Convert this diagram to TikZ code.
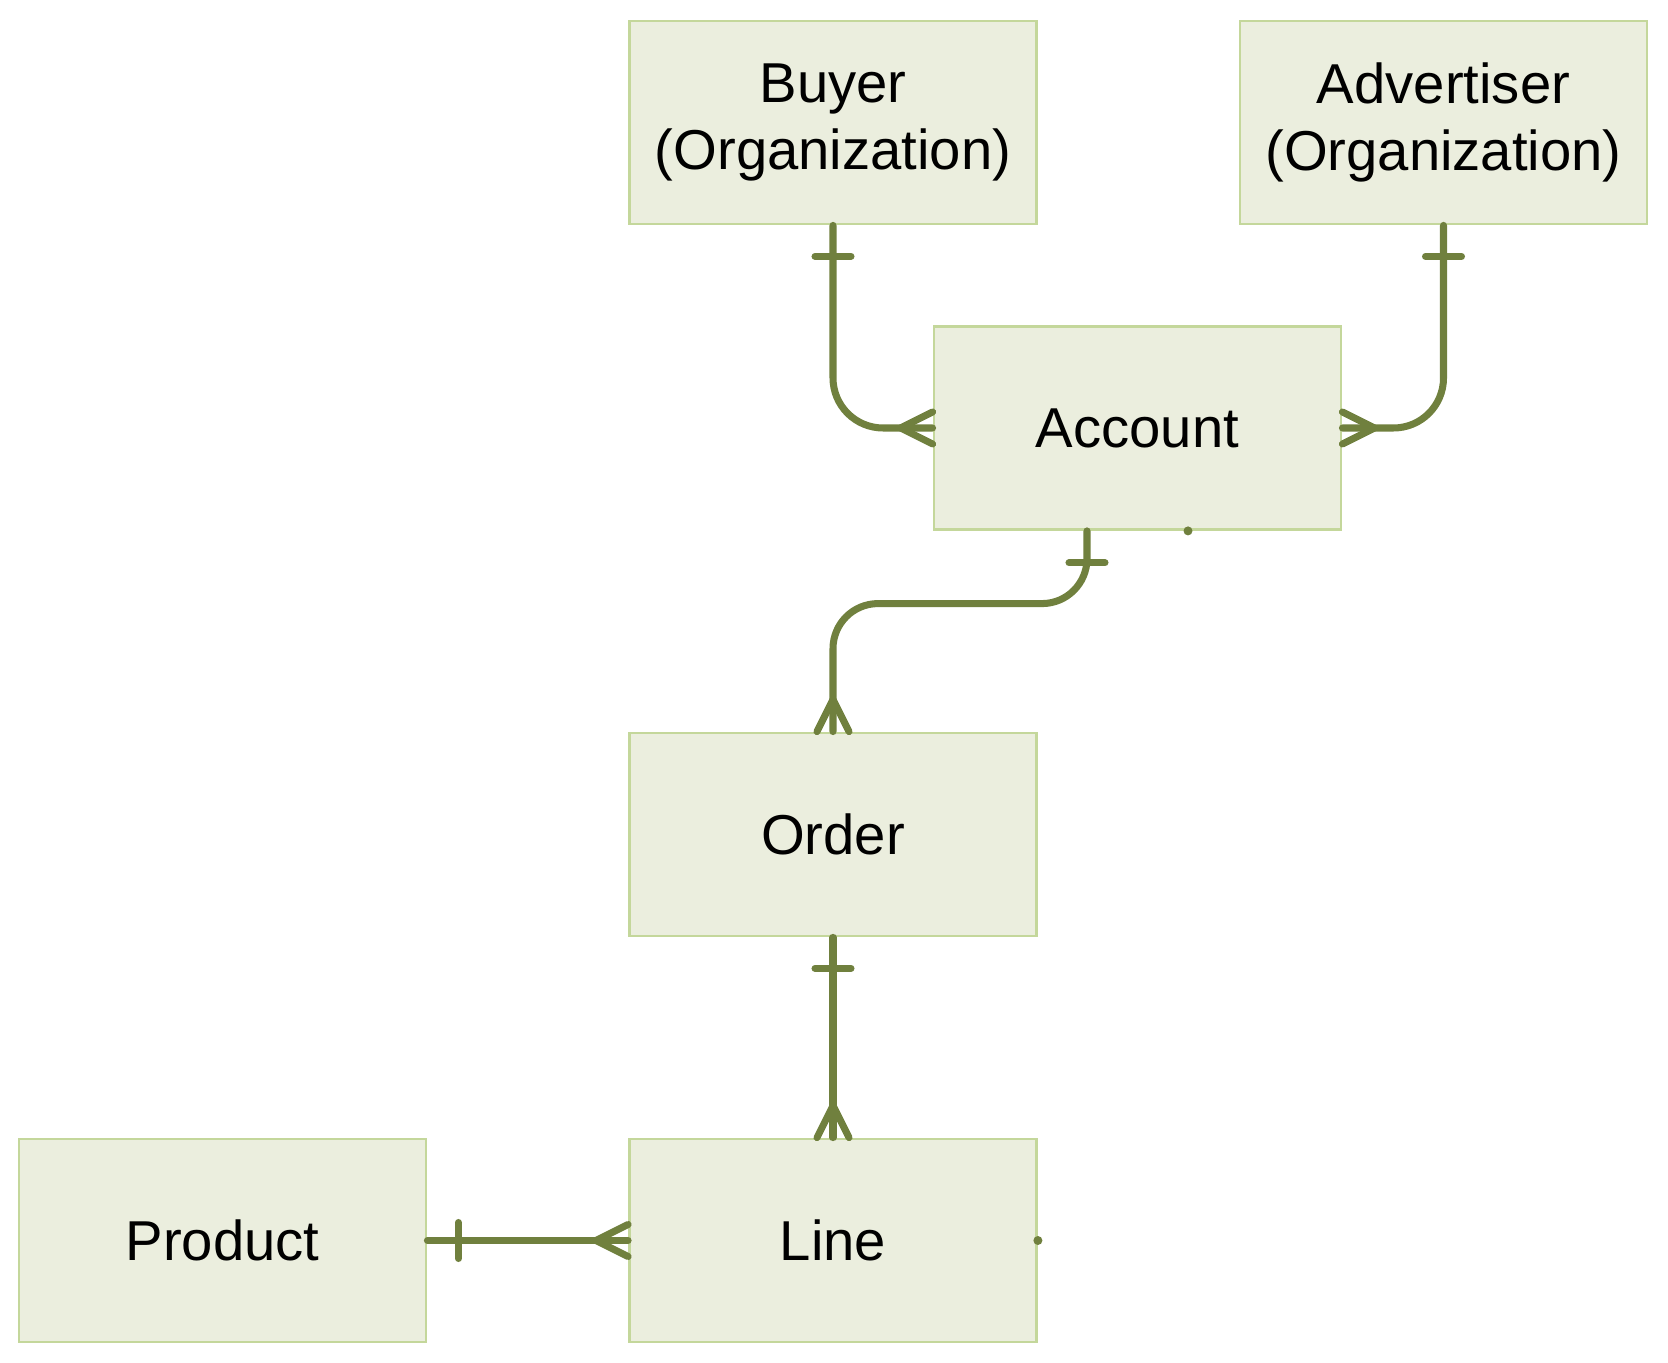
\documentclass[tikz,border=0pt]{standalone}
\usepackage{fontspec}
\setmainfont{Liberation Sans}
\usetikzlibrary{positioning, calc}
\definecolor{boxfill}{RGB}{235,238,222}
\definecolor{boxborder}{RGB}{196,215,155}
\definecolor{linkgreen}{RGB}{112,128,62}
\tikzset{
    entity/.style={
        align=center,
        fill=boxfill,
        draw=boxborder,
        line width=0.8pt,
        minimum width=4.07cm,
        minimum height=2.03cm,
        inner sep=0pt,
        font=\fontsize{16}{19}\selectfont
    },
    link/.style={draw=linkgreen, line width=2pt, line cap=round, line join=round},
    linkcurve/.style={link, rounded corners=5mm}
}

\begin{document}
\begin{tikzpicture}

    \useasboundingbox (0,0) rectangle (16.68,13.62);

    % 1. Organizations (top row)
    \node[entity] (buyer) at (8.33, 12.395) {Buyer \\ (Organization)};
    \node[entity] (advertiser) at (14.435, 12.395) {Advertiser \\ (Organization)};

    % 2. Account
    \node[entity] (account) at (11.375, 9.34) {Account};

    % 3. Order / Line / Product
    \node[entity] (order) at (8.33, 5.275) {Order};
    \node[entity] (line) at (8.33, 1.215) {Line};
    \node[entity] (product) at (2.225, 1.215) {Product};

    % ==========================================
    % Connections (one to many)
    % ==========================================

    % Buyer -> Account
    \draw[linkcurve] (buyer.south) |- (account.west);
    \draw[link] ([xshift=-1.8mm, yshift=-3.1mm]buyer.south) -- ++(3.6mm,0);
    \draw[link] ([yshift=1.6mm]account.west) -- ++(-3.2mm,-1.6mm) -- ([yshift=-1.6mm]account.west);

    % Advertiser -> Account
    \draw[linkcurve] (advertiser.south) |- (account.east);
    \draw[link] ([xshift=-1.8mm, yshift=-3.1mm]advertiser.south) -- ++(3.6mm,0);
    \draw[link] ([yshift=1.6mm]account.east) -- ++(3.2mm,-1.6mm) -- ([yshift=-1.6mm]account.east);

    % Account -> Order
    \draw[link, rounded corners=4.5mm] ([xshift=-5.05mm]account.south) |- ([yshift=12.8mm]order.north) -- (order.north);
    \draw[link] ([xshift=-6.85mm, yshift=-3.2mm]account.south) -- ++(3.6mm,0);
    \draw[link] ([xshift=-1.6mm]order.north) -- ++(1.6mm,3.2mm) -- ([xshift=1.6mm]order.north);

    % Order -> Line
    \draw[link] (order.south) -- (line.north);
    \draw[link] ([xshift=-1.8mm, yshift=-3.1mm]order.south) -- ++(3.6mm,0);
    \draw[link] ([xshift=-1.6mm]line.north) -- ++(1.6mm,3.2mm) -- ([xshift=1.6mm]line.north);

    % Product -> Line
    \draw[link] (product.east) -- (line.west);
    \draw[link] ([xshift=3.1mm, yshift=-1.8mm]product.east) -- ++(0,3.6mm);
    \draw[link] ([yshift=1.6mm]line.west) -- ++(-3.2mm,-1.6mm) -- ([yshift=-1.6mm]line.west);

    % loose stubs
    \fill[linkgreen] ([xshift=5.05mm]account.south) circle (0.45mm);
    \fill[linkgreen] (line.east) circle (0.45mm);

\end{tikzpicture}
\end{document}
